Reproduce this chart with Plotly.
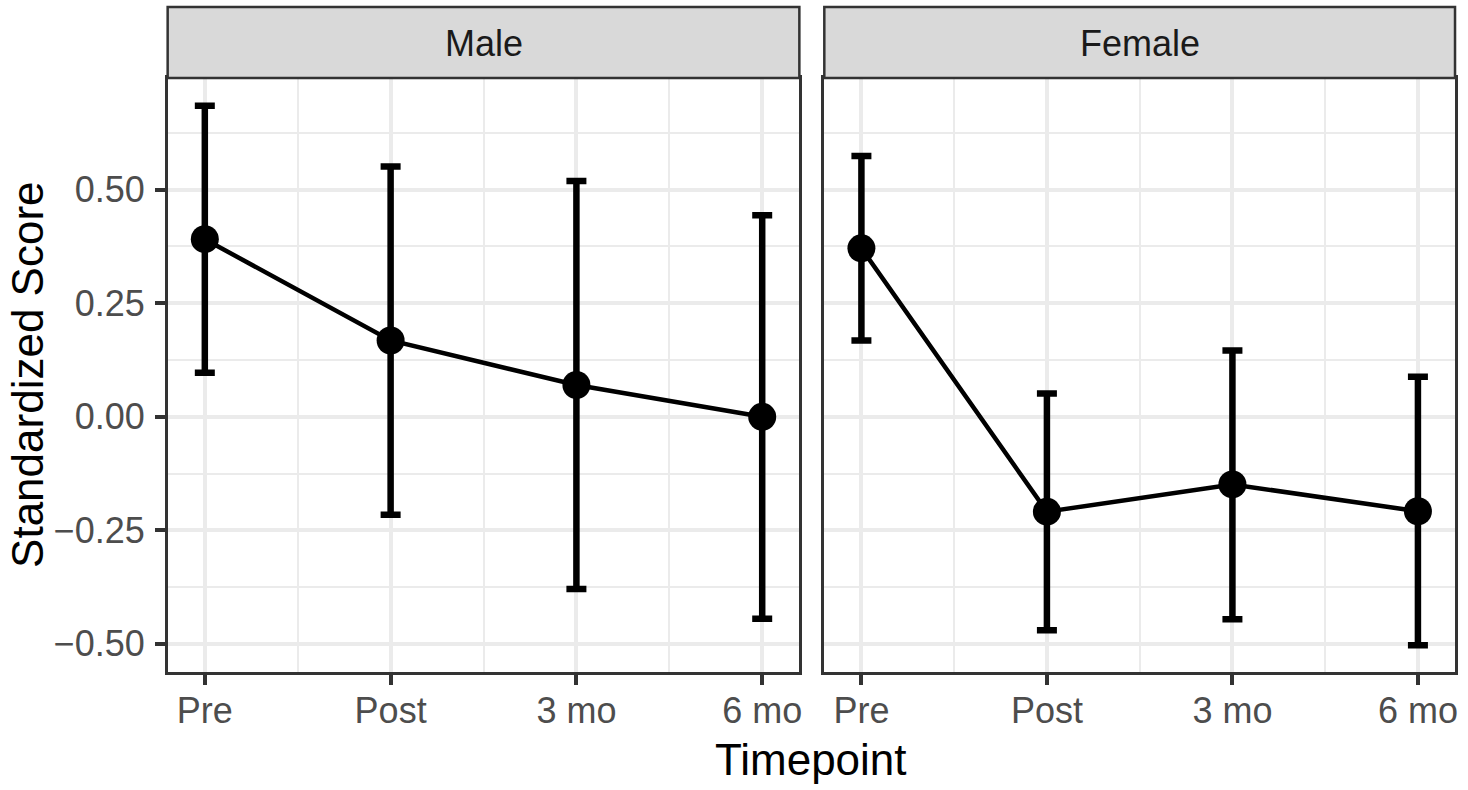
import plotly.graph_objects as go

# ---- data ----
timepoints = ["Pre", "Post", "3 mo", "6 mo"]
male_mean = [0.391, 0.168, 0.070, 0.000]
male_upper = [0.685, 0.551, 0.519, 0.444]
male_lower = [0.097, -0.216, -0.379, -0.445]
female_mean = [0.371, -0.209, -0.149, -0.208]
female_upper = [0.574, 0.051, 0.146, 0.088]
female_lower = [0.168, -0.470, -0.446, -0.503]
panels = ["Male", "Female"]
y_ticks = [-0.50, -0.25, 0.00, 0.25, 0.50]
y_ticklabels = ["\u22120.50", "\u22120.25", "0.00", "0.25", "0.50"]
y_minor = [-0.375, -0.125, 0.125, 0.375, 0.625]

W, H = 1468, 790
FONT = "Liberation Sans"
xpos = [i + 1 for i in range(len(timepoints))]
x_minor = [p + 0.5 for p in xpos[:-1]]

# pixel layout
px_l = [(168, 801), (826, 1458)]
py_top, py_bot = 78, 672
strip_top = 7


def fx(p):
    return p / W


def fy(p):
    return 1 - p / H


fig = go.Figure()

series = [(male_mean, male_upper, male_lower), (female_mean, female_upper, female_lower)]
for i, (m, u, lo) in enumerate(series):
    plus = [a - b for a, b in zip(u, m)]
    minus = [b - c for b, c in zip(m, lo)]
    suffix = "" if i == 0 else str(i + 1)
    fig.add_trace(go.Scatter(
        x=xpos, y=m, mode="lines+markers",
        line=dict(color="black", width=4.5),
        marker=dict(color="black", size=28),
        error_y=dict(type="data", array=plus, arrayminus=minus, symmetric=False,
                     color="black", thickness=6.5, width=10),
        xaxis="x" + suffix, yaxis="y" + suffix, showlegend=False,
        cliponaxis=False,
    ))

grid = "#EBEBEB"
border = "#333333"
common_x = dict(
    range=[0.8, 4.2], tickmode="array", tickvals=xpos, ticktext=timepoints,
    showgrid=True, gridcolor=grid, gridwidth=3.5, zeroline=False,
    showline=True, linecolor=border, linewidth=2.5, mirror=True,
    ticks="outside", ticklen=10, tickwidth=4, tickcolor=border,
    ticklabelstandoff=-5,
    tickfont=dict(family=FONT, size=36, color="#4D4D4D"),
    minor=dict(tickmode="array", tickvals=x_minor, showgrid=True, gridcolor=grid,
               gridwidth=2, ticks=""),
    fixedrange=True,
)
common_y = dict(
    range=[-0.562, 0.746], tickmode="array", tickvals=y_ticks, ticktext=y_ticklabels,
    showgrid=True, gridcolor=grid, gridwidth=3.5, zeroline=False,
    showline=True, linecolor=border, linewidth=2.5, mirror=True,
    tickfont=dict(family=FONT, size=36, color="#4D4D4D"),
    minor=dict(tickmode="array", tickvals=y_minor, showgrid=True, gridcolor=grid,
               gridwidth=2, ticks=""),
    domain=[fy(py_bot), fy(py_top)], fixedrange=True,
)

fig.update_layout(
    xaxis=dict(common_x, domain=[fx(px_l[0][0]), fx(px_l[0][1])], anchor="y"),
    xaxis2=dict(common_x, domain=[fx(px_l[1][0]), fx(px_l[1][1])], anchor="y2"),
    yaxis=dict(common_y, anchor="x", ticks="outside", ticklen=10, tickwidth=4,
               tickcolor=border, showticklabels=True, ticklabelstandoff=3),
    yaxis2=dict(common_y, anchor="x2", ticks="", showticklabels=False, matches="y"),
    width=W, height=H, margin=dict(l=0, r=0, t=0, b=0),
    paper_bgcolor="white", plot_bgcolor="white",
    font=dict(family=FONT),
)

shapes = []
annotations = []
for (l, r), name in zip(px_l, panels):
    shapes.append(dict(type="rect", xref="paper", yref="paper",
                       x0=fx(l), x1=fx(r), y0=fy(py_top), y1=fy(strip_top),
                       fillcolor="#D9D9D9", line=dict(color=border, width=2.5),
                       layer="above"))
    annotations.append(dict(xref="paper", yref="paper", x=fx((l + r) / 2),
                            y=fy((strip_top + py_top) / 2 + 1), text=name, showarrow=False,
                            xanchor="center", yanchor="middle",
                            font=dict(family=FONT, size=36, color="#1A1A1A")))

annotations.append(dict(xref="paper", yref="paper", x=fx(27), y=fy((py_top + py_bot) / 2),
                        text="Standardized Score", textangle=-90, showarrow=False,
                        xanchor="center", yanchor="middle",
                        font=dict(family=FONT, size=44, color="black")))
annotations.append(dict(xref="paper", yref="paper", x=fx((px_l[0][0] + px_l[1][1]) / 2),
                        y=fy(759), text="Timepoint", showarrow=False,
                        xanchor="center", yanchor="middle",
                        font=dict(family=FONT, size=44, color="black")))

fig.update_layout(shapes=shapes, annotations=annotations)

fig.write_html("out.html",
               config={"displayModeBar": False},
               post_script="document.body.style.margin='0px';document.body.style.overflow='hidden';")
